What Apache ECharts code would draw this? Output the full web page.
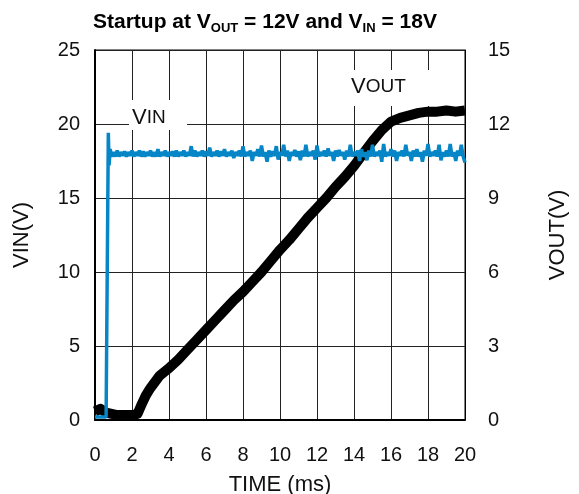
<!DOCTYPE html>
<html><head><meta charset="utf-8">
<script src="https://cdn.jsdelivr.net/npm/echarts@6/dist/echarts.min.js"></script>
<style>html,body{margin:0;padding:0;background:#fff}#c{width:579px;height:494px}</style>
</head><body><div id="c"></div>
<script>
// ---- data ----
const xTicks = [0,2,4,6,8,10,12,14,16,18,20];
const vinLeftTicks = [0,5,10,15,20,25];
const voutRightTicks = [0,3,6,9,12,15];

const vinTime = [0,0.3,0.6,0.68,0.72,0.76,0.82,0.9,
 1.0,1.1,1.2,1.3,1.4,1.5,1.6,1.7,1.8,1.9,2.0,2.1,2.2,2.3,2.4,2.5,2.6,2.7,2.8,2.9,3.0,3.1,3.2,3.3,3.4,3.5,3.6,3.7,3.8,3.9,4.0,4.1,4.2,4.3,4.4,4.5,4.6,4.7,4.8,4.9,5.0,
 5.1,5.2,5.3,5.4,5.5,5.6,5.7,5.8,5.9,6.0,6.1,6.2,6.3,6.4,6.5,6.6,6.7,6.8,6.9,7.0,7.1,7.2,7.3,7.4,7.5,7.6,7.7,7.8,7.9,8.0,8.1,8.2,8.3,8.4,8.5,8.6,8.7,8.8,8.9,9.0,9.1,9.2,9.3,9.4,9.5,9.6,9.7,9.8,9.9,10.0,
 10.1,10.2,10.3,10.4,10.5,10.6,10.7,10.8,10.9,11.0,11.1,11.2,11.3,11.4,11.5,11.6,11.7,11.8,11.9,12.0,12.1,12.2,12.3,12.4,12.5,12.6,12.7,12.8,12.9,13.0,13.1,13.2,13.3,13.4,13.5,13.6,13.7,13.8,13.9,14.0,14.1,14.2,14.3,14.4,14.5,14.6,14.7,14.8,14.9,15.0,
 15.1,15.2,15.3,15.4,15.5,15.6,15.7,15.8,15.9,16.0,16.1,16.2,16.3,16.4,16.5,16.6,16.7,16.8,16.9,17.0,17.1,17.2,17.3,17.4,17.5,17.6,17.7,17.8,17.9,18.0,18.1,18.2,18.3,18.4,18.5,18.6,18.7,18.8,18.9,19.0,19.1,19.2,19.3,19.4,19.5,19.6,19.7,19.8,19.9,20.0];
const vinValues = [0.2,0.2,0.2,0.3,19.4,17.2,18.3,17.8,
 18.1,17.8,18.2,17.8,18.1,17.85,18.15,17.8,18.1,17.85,18.2,17.8,18.1,17.85,18.2,17.8,18.15,17.8,18.1,17.85,18.2,17.8,18.1,17.8,18.3,17.8,18.1,17.85,18.2,17.8,18.1,17.85,18.15,17.8,18.2,17.8,18.1,17.85,18.2,17.8,18.1,
 17.85,18.5,17.8,18.2,17.8,18.1,17.85,18.2,17.8,18.15,17.85,18.4,17.8,18.1,17.85,18.2,17.8,18.15,17.85,18.3,17.8,18.1,17.85,18.2,17.7,18.1,17.85,18.2,17.8,18.5,17.8,18.1,17.85,18.2,17.5,18.1,17.85,18.3,17.8,18.55,17.8,18.1,17.45,18.2,17.8,18.15,17.85,18.5,17.6,18.1,
 17.85,18.6,17.8,18.2,17.5,18.1,17.85,18.25,17.8,18.15,17.55,18.2,17.8,18.6,17.8,18.1,17.85,18.2,17.6,18.55,17.8,18.1,17.85,18.2,17.8,18.35,17.85,18.1,17.5,18.2,17.8,18.25,17.85,18.1,17.6,18.2,17.8,18.6,17.8,18.1,17.85,18.2,17.5,18.3,17.8,18.1,17.55,18.2,17.8,18.6,
 17.8,18.1,17.85,18.2,17.45,18.65,17.8,18.1,17.85,18.3,17.8,18.2,17.5,18.1,17.85,18.2,17.8,18.6,17.85,18.1,17.5,18.2,17.8,18.3,17.8,18.1,17.45,18.2,17.85,18.65,17.8,18.1,17.85,18.2,17.8,18.6,17.55,18.1,17.8,18.2,17.8,18.65,17.8,18.1,17.5,18.2,17.85,18.6,17.8,17.4];

const voutTime = [0,0.3,0.6,0.9,1.2,1.6,2.0,2.3,2.5,2.75,3.0,3.25,3.5,3.75,4.0,4.5,5.0,5.5,6.0,6.5,7.0,7.5,8.0,8.5,9.0,9.5,10.0,
 10.5,11.0,11.5,12.0,12.5,13.0,13.5,14.0,14.5,15.0,15.5,16.0,16.5,17.0,17.5,18.0,18.5,19.0,19.5,20.0];
const voutValues = [0.35,0.45,0.3,0.25,0.2,0.2,0.2,0.25,0.6,1.0,1.3,1.55,1.8,1.95,2.1,2.45,2.85,3.25,3.65,4.05,4.45,4.85,5.2,5.6,6.0,6.45,6.9,
 7.3,7.75,8.2,8.6,9.0,9.45,9.85,10.3,10.8,11.3,11.75,12.1,12.25,12.35,12.45,12.5,12.5,12.55,12.5,12.55];

const vinSeries = vinTime.map((t,i)=>[t,vinValues[i]]);
const voutSeries = voutTime.map((t,i)=>[t,voutValues[i]]);

const chart = echarts.init(document.getElementById('c'));
const FONT = 'Liberation Sans, Arial, sans-serif';
chart.setOption({
  animation:false,
  backgroundColor:'#fff',
  title:{
    text:'Startup at V{s|OUT} = 12V and V{s|IN} = 18V',
    left:88, top:4,
    textStyle:{fontFamily:FONT,fontWeight:'bold',fontSize:21,color:'#000',lineHeight:26,
      rich:{s:{fontFamily:FONT,fontWeight:'bold',fontSize:13,lineHeight:26,verticalAlign:'bottom',color:'#000'}}}
  },
  grid:{left:95,right:114,top:50,bottom:74,show:true,borderColor:'#000',borderWidth:1,containLabel:false,outerBoundsMode:'none'},
  xAxis:{type:'value',min:0,max:20,interval:2,
    name:'TIME (ms)',nameLocation:'middle',nameGap:54,
    nameTextStyle:{fontFamily:FONT,fontSize:22,color:'#111'},
    axisLine:{show:true,lineStyle:{color:'#000',width:2}},
    axisTick:{show:false},
    axisLabel:{fontFamily:FONT,fontSize:20,color:'#111',margin:25,
      formatter:v=>xTicks.includes(v)?String(v):''},
    splitLine:{show:true,lineStyle:{color:'#222',width:1}}},
  yAxis:[
   {type:'value',min:0,max:25,interval:5,position:'left',
    name:'VIN(V)',nameLocation:'middle',nameGap:62,nameRotate:90,
    nameTextStyle:{fontFamily:FONT,fontSize:22,color:'#111'},
    axisLine:{show:true,lineStyle:{color:'#000',width:2}},
    axisTick:{show:false},
    axisLabel:{fontFamily:FONT,fontSize:20,color:'#111',margin:15,
      formatter:v=>vinLeftTicks.includes(v)?String(v):''},
    splitLine:{show:true,lineStyle:{color:'#222',width:1}}},
   {type:'value',min:0,max:15,interval:3,position:'right',
    name:'VOUT(V)',nameLocation:'middle',nameGap:82,nameRotate:90,
    nameTextStyle:{fontFamily:FONT,fontSize:22,color:'#111'},
    axisLine:{show:true,lineStyle:{color:'#000',width:1}},
    axisTick:{show:false},
    axisLabel:{fontFamily:FONT,fontSize:20,color:'#111',margin:23,
      formatter:v=>voutRightTicks.includes(v)?String(v):''},
    splitLine:{show:false}}
  ],
  series:[
   {name:'VOUT',type:'line',yAxisIndex:1,data:voutSeries,symbol:'none',
    lineStyle:{color:'#000',width:10,join:'round',cap:'butt'},z:2},
   {name:'VIN',type:'line',yAxisIndex:0,data:vinSeries,symbol:'none',
    lineStyle:{color:'#0686c6',width:3.5},z:3}
  ],
  graphic:[
   {type:'rect',shape:{x:129,y:100,width:58,height:30},style:{fill:'#fff'},z:10},
   {type:'text',x:132,y:107,z:11,style:{text:'V{a|IN}',fontFamily:FONT,fontSize:22,fill:'#111',
     rich:{a:{fontFamily:FONT,fontSize:19,fill:'#111'}}}},
   {type:'rect',shape:{x:344,y:70,width:88,height:36},style:{fill:'#fff'},z:10},
   {type:'text',x:351,y:76,z:11,style:{text:'V{a|OUT}',fontFamily:FONT,fontSize:22,fill:'#111',
     rich:{a:{fontFamily:FONT,fontSize:19,fill:'#111'}}}}
  ]
});
</script></body></html>
